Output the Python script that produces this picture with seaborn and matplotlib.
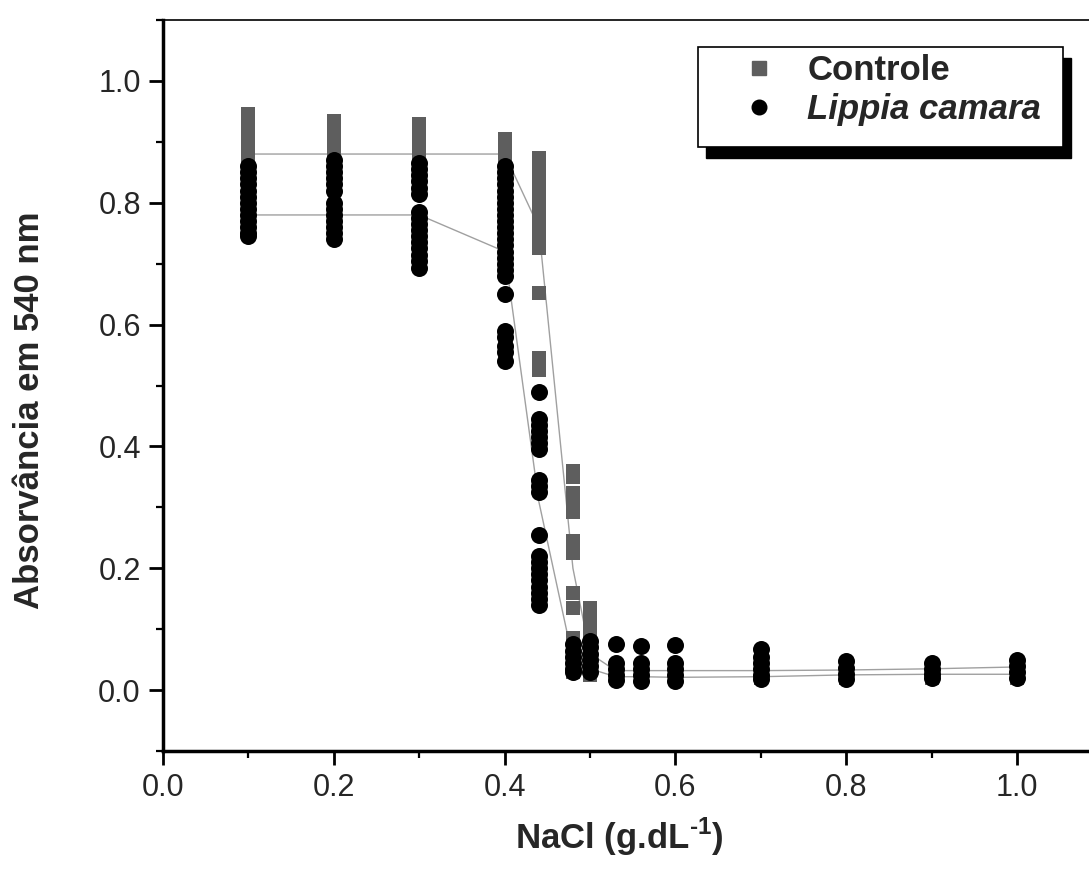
import numpy as np
import pandas as pd
import matplotlib
matplotlib.use('Agg')
import matplotlib.pyplot as plt
from matplotlib.lines import Line2D
from matplotlib.patches import Rectangle
from matplotlib.ticker import MultipleLocator
import seaborn as sns

# NaCl concentrations (g/dL)
nacl = [0.1, 0.2, 0.3, 0.4, 0.44, 0.48, 0.5, 0.53, 0.56, 0.6, 0.7, 0.8, 0.9, 1.0]

# replicate absorbances
controle_reps = [
    [0.945, 0.935, 0.925, 0.915, 0.905, 0.895, 0.885, 0.875, 0.865, 0.855, 0.845, 0.835, 0.825, 0.815],
    [0.935, 0.925, 0.915, 0.905, 0.895, 0.885, 0.875, 0.865, 0.855, 0.845, 0.835],
    [0.93, 0.92, 0.91, 0.90, 0.89, 0.88, 0.87, 0.86, 0.85, 0.84, 0.83],
    [0.905, 0.895, 0.885, 0.875, 0.865, 0.855, 0.845, 0.835, 0.825],
    [0.873, 0.863, 0.85, 0.84, 0.83, 0.82, 0.81, 0.80, 0.79, 0.78, 0.77, 0.76, 0.75, 0.74, 0.73,
     0.725, 0.652, 0.545, 0.525],
    [0.36, 0.35, 0.323, 0.31, 0.292, 0.245, 0.225, 0.159, 0.134, 0.085, 0.07, 0.055, 0.045, 0.03],
    [0.135, 0.125, 0.115, 0.105, 0.095, 0.085, 0.075, 0.065, 0.055, 0.045, 0.035, 0.025],
    [0.04, 0.03, 0.02],
    [0.035, 0.025, 0.02],
    [0.035, 0.025, 0.02],
    [0.035, 0.025, 0.02],
    [0.035, 0.025, 0.02],
    [0.03, 0.025, 0.02],
    [0.035, 0.025, 0.02],
]
lippia_reps = [
    [0.86, 0.85, 0.84, 0.83, 0.82, 0.81, 0.80, 0.79, 0.78, 0.77, 0.76, 0.75, 0.745],
    [0.87, 0.86, 0.85, 0.84, 0.83, 0.82, 0.80, 0.79, 0.78, 0.77, 0.76, 0.75, 0.74],
    [0.865, 0.855, 0.845, 0.835, 0.825, 0.815, 0.785, 0.775, 0.765, 0.755, 0.745, 0.735, 0.725,
     0.715, 0.705, 0.693],
    [0.86, 0.85, 0.84, 0.83, 0.82, 0.81, 0.80, 0.79, 0.78, 0.77, 0.76, 0.75, 0.74, 0.73, 0.72,
     0.71, 0.70, 0.69, 0.68, 0.65, 0.59, 0.58, 0.565, 0.555, 0.54],
    [0.49, 0.445, 0.435, 0.425, 0.415, 0.405, 0.395, 0.345, 0.335, 0.325, 0.254, 0.22, 0.21,
     0.20, 0.19, 0.18, 0.17, 0.16, 0.15, 0.14],
    [0.075, 0.065, 0.055, 0.045, 0.035, 0.03],
    [0.08, 0.07, 0.06, 0.05, 0.04, 0.03],
    [0.075, 0.045, 0.035, 0.025, 0.016],
    [0.072, 0.045, 0.035, 0.025, 0.015],
    [0.074, 0.045, 0.035, 0.025, 0.015],
    [0.067, 0.055, 0.045, 0.035, 0.025, 0.018],
    [0.047, 0.037, 0.027, 0.018],
    [0.044, 0.035, 0.027, 0.02],
    [0.05, 0.04, 0.03, 0.02],
]

# mean curves
controle_mean = [0.88, 0.88, 0.88, 0.88, 0.76, 0.20, 0.06, 0.032, 0.032, 0.032, 0.032, 0.033, 0.035, 0.038]
lippia_mean = [0.78, 0.78, 0.78, 0.72, 0.31, 0.05, 0.035, 0.022, 0.022, 0.021, 0.022, 0.025, 0.026, 0.026]


def long_form(reps):
    rows = [(x, v) for x, vals in zip(nacl, reps) for v in vals]
    return pd.DataFrame(rows, columns=['NaCl', 'Abs'])


dfc = long_form(controle_reps)
dfl = long_form(lippia_reps)
means = pd.DataFrame({'NaCl': nacl, 'Controle': controle_mean, 'Lippia': lippia_mean})

sns.set_style('ticks')
plt.rcParams['font.family'] = ['Liberation Sans', 'DejaVu Sans']
plt.rcParams['mathtext.fontset'] = 'custom'
plt.rcParams['mathtext.rm'] = 'Liberation Sans:bold'
plt.rcParams['mathtext.bf'] = 'Liberation Sans:bold'

gray = '#5e5e5e'
fig = plt.figure(figsize=(10.89, 8.74), dpi=100)
ax = fig.add_axes([0.1497, 0.1407, 0.8626, 0.8364])

sns.lineplot(data=means, x='NaCl', y='Controle', color='#a0a0a0', lw=1.0, ax=ax, zorder=2)
sns.lineplot(data=means, x='NaCl', y='Lippia', color='#a0a0a0', lw=1.0, ax=ax, zorder=2)
sns.scatterplot(data=dfc, x='NaCl', y='Abs', marker='s', s=115, color=gray, linewidth=0, ax=ax, zorder=3)
sns.scatterplot(data=dfl, x='NaCl', y='Abs', marker='o', s=150, color='black', linewidth=0, ax=ax, zorder=4)

ax.set_xlim(0, 1.1)
ax.set_ylim(-0.1, 1.1)
ax.xaxis.set_minor_locator(MultipleLocator(0.1))
ax.yaxis.set_minor_locator(MultipleLocator(0.1))
ax.set_xticks([0.0, 0.2, 0.4, 0.6, 0.8, 1.0])
ax.set_xticklabels(['0.0', '0.2', '0.4', '0.6', '0.8', '1.0'])
ax.set_yticks([0.0, 0.2, 0.4, 0.6, 0.8, 1.0])
ax.set_yticklabels(['0.0', '0.2', '0.4', '0.6', '0.8', '1.0'])
ax.tick_params(which='major', direction='out', length=10, width=2, labelsize=22, pad=6, color='black')
ax.tick_params(which='minor', direction='out', length=5, width=1.6, color='black')
ax.tick_params(top=False, right=False)

for side in ['left', 'bottom']:
    ax.spines[side].set_linewidth(2.5)
ax.spines['top'].set_linewidth(1.2)
ax.spines['right'].set_linewidth(1.2)
for sp in ax.spines.values():
    sp.set_color('black')

ax.set_xlabel(r'NaCl (g.dL$^{\text{-1}}$)', fontsize=25, fontweight='bold')
ax.set_ylabel('Absorvância em 540 nm', fontsize=25, fontweight='bold')
ax.xaxis.set_label_coords(0.486, -0.088)
ax.yaxis.set_label_coords(-0.125, 0.4665)

# legend box with hard shadow
ax.add_patch(Rectangle((0.5777, 0.8113), 0.3885, 0.1368, transform=ax.transAxes,
                       facecolor='black', edgecolor='black', clip_on=False, zorder=6))
ax.add_patch(Rectangle((0.5692, 0.8263), 0.3885, 0.1368, transform=ax.transAxes,
                       facecolor='white', edgecolor='black', lw=1.2, clip_on=False, zorder=7))
handles = [Line2D([], [], marker='s', color=gray, linestyle='none', markersize=9.5),
           Line2D([], [], marker='o', color='black', linestyle='none', markersize=10.5)]
leg = ax.legend(handles, ['Controle', 'Lippia camara'], loc='upper left',
                bbox_to_anchor=(0.6155, 0.9535), borderaxespad=0, borderpad=0,
                frameon=False, handlelength=1.0, handletextpad=0.9, labelspacing=0.18,
                prop={'size': 25, 'weight': 'bold'})
leg.set_zorder(8)
leg.get_texts()[1].set_fontstyle('italic')

fig.savefig('out.png', dpi=100)
